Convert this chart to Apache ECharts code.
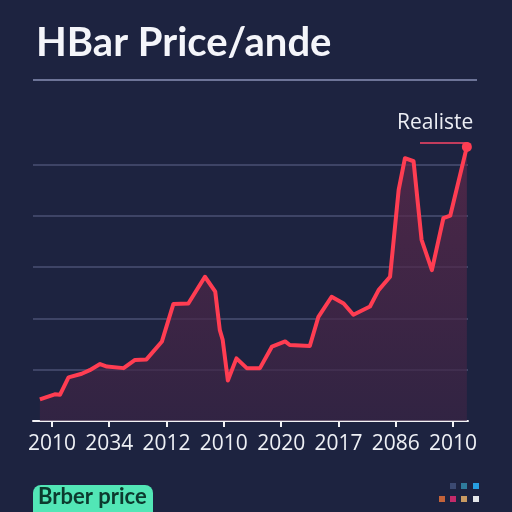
<!DOCTYPE html>
<html>
<head>
<meta charset="utf-8">
<script src="https://cdn.jsdelivr.net/npm/echarts@6/dist/echarts.min.js"></script>
<style>
  html, body { margin: 0; padding: 0; background: #1d2340; }
  #chart { width: 512px; height: 512px; }
</style>
</head>
<body>
<div id="chart"></div>
<script>
// tick labels on the x axis (as printed)
const tickLabels = ['2010', '2034', '2012', '2010', '2020', '2017', '2086', '2010'];
const tickPos = [0, 1, 2, 3, 4, 5, 6, 7];

// price line, x in tick units, y in grid units
const priceX = [-0.21, 0.05, 0.14, 0.29, 0.52, 0.66, 0.84, 0.96, 1.25, 1.45, 1.65, 1.92, 2.12, 2.38,
  2.67, 2.85, 2.93, 2.98, 3.07, 3.22, 3.40, 3.63, 3.84, 4.07, 4.15, 4.50, 4.65, 4.88, 5.09,
  5.26, 5.55, 5.70, 5.90, 6.05, 6.16, 6.31, 6.45, 6.63, 6.83, 6.95, 7.24];
const priceY = [0.42, 0.52, 0.51, 0.85, 0.92, 0.99, 1.11, 1.06, 1.03, 1.19, 1.20, 1.55, 2.28, 2.29,
  2.81, 2.52, 1.77, 1.58, 0.79, 1.22, 1.03, 1.03, 1.45, 1.55, 1.48, 1.46, 2.03, 2.42, 2.29,
  2.07, 2.23, 2.55, 2.81, 4.50, 5.12, 5.06, 3.53, 2.94, 3.95, 4.00, 5.34];

const gridColor = '#4a5073';
const lastIdx = priceX.length - 1;

const chart = echarts.init(document.getElementById('chart'));

chart.setOption({
  backgroundColor: '#1d2340',
  animation: false,
  title: {
    text: 'HBar Price/ande',
    left: 31,
    top: 18,
    textStyle: { color: '#f4f5fa', fontFamily: 'Lato', fontWeight: 'bold', fontSize: 40 }
  },
  grid: { left: 33, right: 44, top: 113, bottom: 91 },
  xAxis: {
    type: 'value',
    min: -0.33,
    max: 7.26,
    axisLine: { lineStyle: { color: '#f2f2f5', width: 2 } },
    axisTick: { customValues: tickPos, length: 6, lineStyle: { color: '#f2f2f5', width: 2 } },
    axisLabel: {
      customValues: tickPos,
      color: '#eef0f5',
      fontSize: 21,
      fontFamily: 'Open Sans',
      margin: 13,
      formatter: (v) => tickLabels[Math.round(v)]
    },
    splitLine: { show: false }
  },
  yAxis: {
    type: 'value',
    min: 0,
    max: 6,
    interval: 1,
    axisLine: { show: false },
    axisTick: { show: false },
    axisLabel: { show: false },
    splitLine: {
      lineStyle: {
        color: ['transparent', gridColor, gridColor, gridColor, gridColor, gridColor, 'transparent'],
        width: 1.5
      }
    }
  },
  series: [{
    type: 'line',
    data: priceX.map((x, i) => [x, priceY[i]]),
    showAllSymbol: true,
    symbol: 'circle',
    symbolSize: (v, p) => (p.dataIndex === lastIdx ? 10 : 0),
    itemStyle: { color: '#ff3d52' },
    lineStyle: { color: '#ff3d52', width: 4, join: 'round' },
    areaStyle: {
      color: new echarts.graphic.LinearGradient(0, 0, 0, 1, [
        { offset: 0, color: '#62294b' },
        { offset: 1, color: '#3a2444' }
      ])
    },
    z: 3
  }],
  graphic: [
    { type: 'line', shape: { x1: 33, y1: 80, x2: 477, y2: 80 }, style: { stroke: '#6d7498', lineWidth: 2 } },
    { type: 'text', left: 397, top: 113, style: { text: 'Realiste', fill: '#eceef4', font: '21px "Open Sans"' } },
    { type: 'line', shape: { x1: 420, y1: 143, x2: 468, y2: 143 }, style: { stroke: '#c23c5c', lineWidth: 2 } },
    { type: 'rect', shape: { x: 33, y: 485, width: 120, height: 40, r: 8 }, style: { fill: '#52e6b6' } },
    { type: 'text', left: 38, top: 486, style: { text: 'Brber price', fill: '#0c3a2e', font: 'bold 22px Lato' } },
    { type: 'rect', shape: { x: 450, y: 483, width: 6, height: 6 }, style: { fill: '#3c4a72' } },
    { type: 'rect', shape: { x: 461, y: 483, width: 6, height: 6 }, style: { fill: '#2f7b9c' } },
    { type: 'rect', shape: { x: 473, y: 483, width: 6, height: 6 }, style: { fill: '#279fe2' } },
    { type: 'rect', shape: { x: 439, y: 496, width: 6, height: 6 }, style: { fill: '#c4633a' } },
    { type: 'rect', shape: { x: 450, y: 496, width: 6, height: 6 }, style: { fill: '#c42a6a' } },
    { type: 'rect', shape: { x: 461, y: 496, width: 6, height: 6 }, style: { fill: '#c99a62' } },
    { type: 'rect', shape: { x: 473, y: 496, width: 6, height: 6 }, style: { fill: '#e4e6ea' } }
  ]
});
</script>
</body>
</html>
